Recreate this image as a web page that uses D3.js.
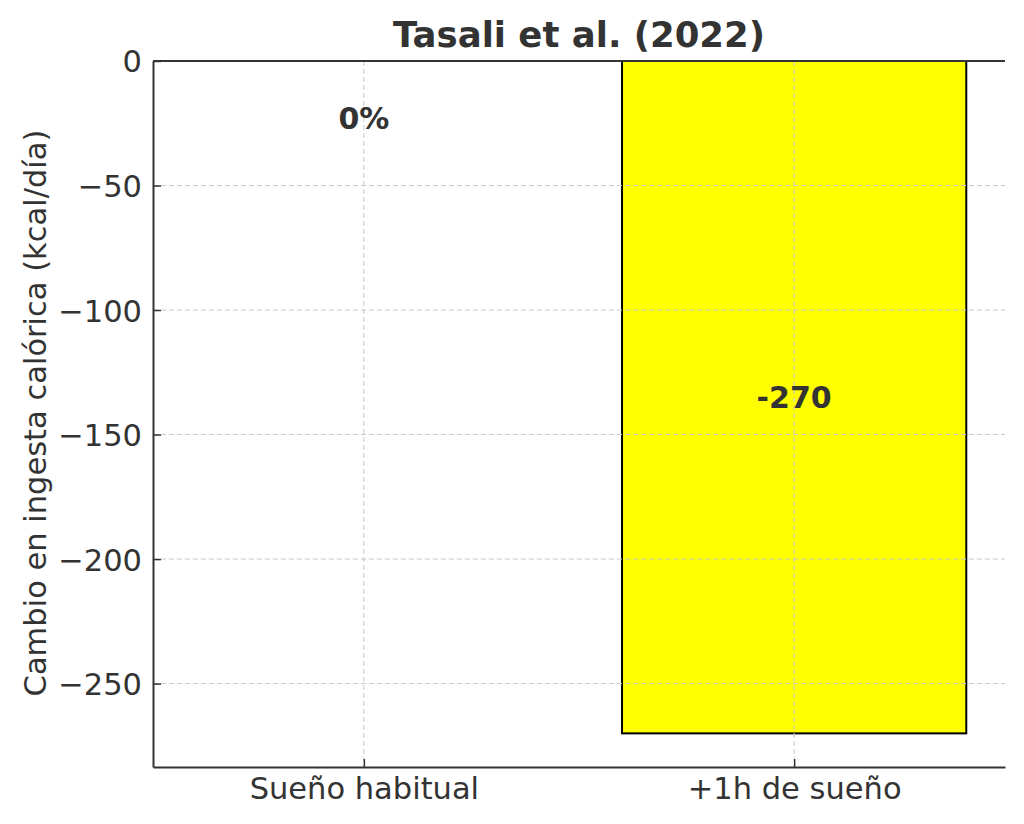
<!DOCTYPE html>
<html><head><meta charset="utf-8">
<script src="https://cdn.jsdelivr.net/npm/d3@7"></script>
<style>body{margin:0;background:#fff}svg{display:block}text{font-family:"DejaVu Sans",sans-serif;fill:#333}</style>
</head><body><svg id="c" width="1024" height="824"></svg>
<script>
const categories = ["Sueño habitual", "+1h de sueño"];
const values = [0, -270];
const barLabels = ["0%", "-270"];
const yTicks = [0, -50, -100, -150, -200, -250];
const title = "Tasali et al. (2022)";
const yLabel = "Cambio en ingesta calórica (kcal/día)";

const svg = d3.select("#c");
const L = 153, R = 1005, T = 61, B = 767;
const x = d3.scaleLinear().domain([-0.49, 1.49]).range([L, R]);
const y = d3.scaleLinear().domain([-283.5, 0]).range([B, T]);
const bw = 0.8;

// bars
svg.append("g").selectAll("rect").data(values).join("rect")
  .attr("x", (d,i) => x(i - bw/2))
  .attr("width", x(bw) - x(0))
  .attr("y", d => y(Math.max(0, d)))
  .attr("height", d => Math.abs(y(d) - y(0)))
  .attr("fill", "#ffff00").attr("stroke", "#000").attr("stroke-width", 2)
  .style("display", d => d === 0 ? "none" : null);

// grid
const grid = svg.append("g").attr("stroke", "#c8c8c8").attr("stroke-width", 1).attr("stroke-dasharray", "5,3");
grid.selectAll(".gy").data(yTicks).join("line")
  .attr("x1", L).attr("x2", R).attr("y1", d => y(d)).attr("y2", d => y(d));
grid.selectAll(".gx").data(categories).join("line")
  .attr("y1", T).attr("y2", B).attr("x1", (d,i) => x(i)).attr("x2", (d,i) => x(i));

// axes
const yAxis = d3.axisLeft(y).tickValues(yTicks).tickSizeInner(-8).tickSizeOuter(0).tickPadding(11)
  .tickFormat(d => d === 0 ? "0" : "\u2212" + Math.abs(d));
const gy = svg.append("g").attr("transform", `translate(${L},0)`).call(yAxis);
gy.select(".domain").attr("stroke", "#333").attr("stroke-width", 2);
gy.selectAll(".tick line").attr("stroke", "#333").attr("stroke-width", 1.5);
gy.selectAll(".tick text").style("font-size", "30.5px").attr("fill", "#333").attr("dy", "0.36em");

const xb = d3.scaleLinear().domain(x.domain()).range(x.range());
const xAxis = d3.axisBottom(xb).tickValues([0, 1]).tickSizeInner(-8).tickSizeOuter(0).tickPadding(10)
  .tickFormat(i => categories[i]);
const gx = svg.append("g").attr("transform", `translate(0,${B})`).call(xAxis);
gx.select(".domain").attr("stroke", "#333").attr("stroke-width", 2);
gx.selectAll(".tick line").attr("stroke", "#333").attr("stroke-width", 1.5);
gx.selectAll(".tick text").style("font-size", "30.5px").attr("fill", "#333");

// top spine
svg.append("line").attr("x1", L).attr("x2", R).attr("y1", T).attr("y2", T).attr("stroke", "#333").attr("stroke-width", 2);

// bar labels
svg.append("g").selectAll("text").data(values).join("text")
  .attr("x", (d,i) => x(i))
  .attr("y", d => y(d === 0 ? -23 : d/2))
  .attr("dy", "0.36em")
  .attr("text-anchor", "middle")
  .style("font-size", "30px").style("font-weight", "bold")
  .text((d,i) => barLabels[i]);

// title
svg.append("text").attr("x", (L+R)/2).attr("y", 47).attr("text-anchor", "middle")
  .style("font-size", "35.5px").style("font-weight", "bold").text(title);

// y label
svg.append("text").attr("transform", `translate(46,${(T+B)/2 - 1}) rotate(-90)`)
  .attr("text-anchor", "middle").style("font-size", "30.5px").text(yLabel);
</script></body></html>
